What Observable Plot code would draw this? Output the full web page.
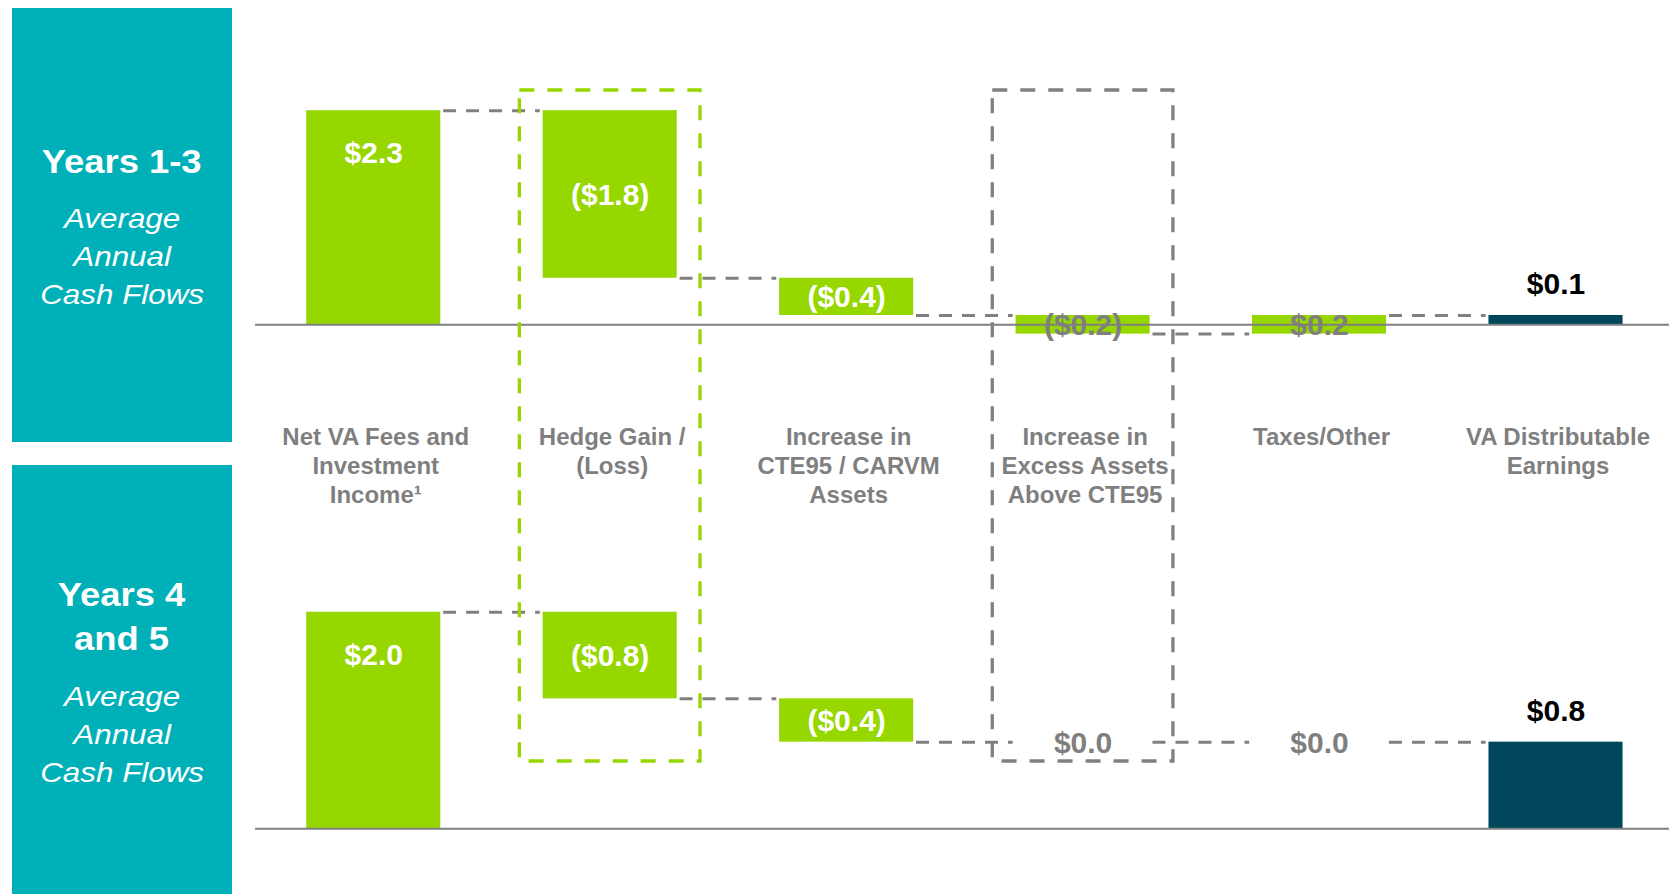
<!DOCTYPE html>
<html><head><meta charset="utf-8">
<script src="https://cdn.jsdelivr.net/npm/d3@7"></script>
<script src="https://cdn.jsdelivr.net/npm/@observablehq/plot@0.6"></script>
<style>
html,body{margin:0;padding:0;background:#fff;}
#root{position:relative;width:1669px;height:894px;overflow:hidden;font-family:'Liberation Sans',Arial,sans-serif;}
.panelbox{position:absolute;left:12px;width:220px;background:#00b0b9;}
.ln{position:absolute;left:12px;width:220px;text-align:center;color:#fff;white-space:pre-line;}
.ln span{display:inline-block;transform-origin:center;}
.ttl{font-size:34px;font-weight:bold;line-height:43.3px;}
.ttl span{transform:scaleX(1.07);}
.sub{font-size:28px;font-style:italic;line-height:38.3px;}
.sub span{transform:scaleX(1.12);}
.layer{position:absolute;left:0;}
</style></head><body><div id="root"></div>
<script>
// ---------- data ----------
const categories = [
  "Net VA Fees and\nInvestment\nIncome¹",
  "Hedge Gain /\n(Loss)",
  "Increase in\nCTE95 / CARVM\nAssets",
  "Increase in\nExcess Assets\nAbove CTE95",
  "Taxes/Other",
  "VA Distributable\nEarnings"
];
const panelTitles = ["Years 1-3", "Years 4\nand 5"];
const panelSubtitle = "Average\nAnnual\nCash Flows";
const years13 = [2.3, -1.8, -0.4, -0.2, 0.2, 0.1];   // last = total
const years45 = [2.0, -0.8, -0.4, 0.0, 0.0, 0.8];    // last = total
const boxedCategories = [1, 3];

// ---------- style ----------
const GREEN = "#97d700", DARK = "#00475c", GRAY = "#7f7f7f";
const FONT = "'Liberation Sans', Arial, sans-serif";
const barHalf = 0.2835, connGap = 0.012, boxHalf = 0.382;
const xDomain = [-0.5, 5.48];

const money = v => (v < -1e-9 ? `($${Math.abs(v).toFixed(1)})` : `$${Math.abs(v).toFixed(1)}`);

function waterfall(values) {
  let run = 0;
  return values.map((v, i) => {
    const isTotal = i === values.length - 1;
    const start = isTotal ? 0 : run;
    const end = isTotal ? v : run + v;
    if (!isTotal) run = end;
    return {i, v, start, end, lo: Math.min(start, end), hi: Math.max(start, end),
            mid: (start + end) / 2, isTotal, label: money(v)};
  });
}
function connectors(rows) {
  return rows.slice(0, -1).map(r => ({i: r.i, level: r.end}));
}
function labelFill(r) { return r.isTotal ? "#000" : Math.abs(r.v) < 0.3 ? GRAY : "#fff"; }

function panelMarks(rows) {
  const first = rows.filter(r => r.i === 0);
  const totals = rows.filter(r => r.isTotal);
  const steps = rows.filter(r => r.i !== 0 && !r.isTotal);
  const txt = {x: "i", text: "label", fill: labelFill, fontSize: 30, fontWeight: "bold", lineAnchor: "middle"};
  return [
    Plot.rect(rows, {x1: d => d.i - barHalf, x2: d => d.i + barHalf, y1: "lo", y2: "hi",
      fill: d => d.isTotal ? DARK : GREEN}),
    Plot.ruleY([0], {stroke: "#808080", strokeWidth: 2}),
    Plot.ruleY(connectors(rows), {y: "level", x1: d => d.i + barHalf + connGap, x2: d => d.i + 1 - barHalf - connGap,
      stroke: "#808080", strokeWidth: 3, strokeDasharray: "13,10"}),
    Plot.text(first, {...txt, y: "hi", dy: 43}),
    Plot.text(steps, {...txt, y: "mid", dy: 1}),
    Plot.text(totals, {...txt, y: "hi", dy: -31})
  ];
}

const root = document.getElementById("root");

// teal side panels
[[8, 434], [465, 429]].forEach(([top, h]) => {
  const d = document.createElement("div");
  d.className = "panelbox"; d.style.top = top + "px"; d.style.height = h + "px";
  root.appendChild(d);
});
function addLine(cls, text, top) {
  const d = document.createElement("div");
  d.className = "ln " + cls; d.style.top = top + "px";
  const s = document.createElement("span"); s.textContent = text;
  d.appendChild(s); root.appendChild(d);
}
addLine("ttl", panelTitles[0], 139.9);
addLine("sub", panelSubtitle, 199.5);
addLine("ttl", panelTitles[1], 573.3);
addLine("sub", panelSubtitle, 677.9);

const topRows = waterfall(years13);
const botRows = waterfall(years45);
const catRows = categories.map((c, i) => ({i, c}));

const topPlot = Plot.plot({
  width: 1669, height: 520,
  marginLeft: 255, marginRight: 0, marginTop: 91.55, marginBottom: 102.6,
  x: {type: "linear", domain: xDomain, axis: null},
  y: {domain: [-1, 2.5], axis: null},
  style: {background: "transparent", fontFamily: FONT, overflow: "visible"},
  marks: [
    ...panelMarks(topRows),
    Plot.text(catRows, {x: "i", text: "c", frameAnchor: "bottom", lineAnchor: "top", dy: 7, dx: 2,
      fontSize: 24, fontWeight: "bold", fill: GRAY, lineHeight: 1.2})
  ]
});
const botPlot = Plot.plot({
  width: 1669, height: 374,
  marginLeft: 255, marginRight: 0, marginTop: 37.55, marginBottom: 65.7,
  x: {type: "linear", domain: xDomain, axis: null},
  y: {domain: [0, 2.5], axis: null},
  style: {background: "transparent", fontFamily: FONT, overflow: "visible"},
  marks: panelMarks(botRows)
});
const overlay = Plot.plot({
  width: 1669, height: 894,
  marginLeft: 255, marginRight: 0, marginTop: 90, marginBottom: 133,
  x: {type: "linear", domain: xDomain, axis: null},
  style: {background: "transparent", fontFamily: FONT, overflow: "visible"},
  marks: [
    Plot.rect(boxedCategories, {x1: d => d - boxHalf, x2: d => d + boxHalf, fill: "none",
      stroke: (d, k) => k === 0 ? GREEN : "#808080", strokeWidth: 3.3, strokeDasharray: "15,13"})
  ]
});

[[topPlot, 0], [botPlot, 520], [overlay, 0]].forEach(([p, top]) => {
  const w = document.createElement("div");
  w.className = "layer"; w.style.top = top + "px";
  if (p === overlay) w.style.pointerEvents = "none";
  w.appendChild(p); root.appendChild(w);
});
</script></body></html>
